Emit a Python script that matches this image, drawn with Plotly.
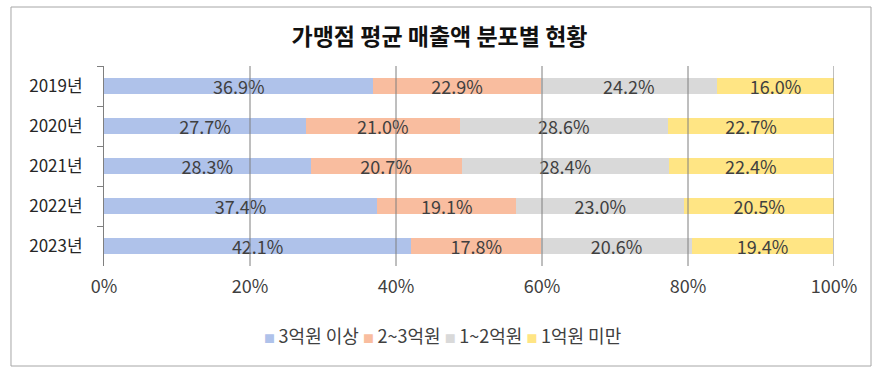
import plotly.graph_objects as go

years = ["2019년", "2020년", "2021년", "2022년", "2023년"]
series_names = ["3억원 이상", "2~3억원", "1~2억원", "1억원 미만"]
v_3plus = [36.9, 27.7, 28.3, 37.4, 42.1]
v_2to3 = [22.9, 21.0, 20.7, 19.1, 17.8]
v_1to2 = [24.2, 28.6, 28.4, 23.0, 20.6]
v_under1 = [16.0, 22.7, 22.4, 20.5, 19.4]
x_ticks = [0, 20, 40, 60, 80, 100]
x_tick_labels = ["0%", "20%", "40%", "60%", "80%", "100%"]

colors = ["#AFC2EA", "#F9BD9F", "#D9D9D9", "#FFE584"]
FONT = "Noto Sans CJK KR"

fig = go.Figure()
for name, vals, col in zip(series_names, [v_3plus, v_2to3, v_1to2, v_under1], colors):
    fig.add_trace(go.Bar(
        y=years, x=vals, name=name, orientation="h",
        marker=dict(color=col, line=dict(width=0)),
        text=[f"{v:.1f}%" for v in vals],
        textposition="inside", insidetextanchor="middle",
        textfont=dict(family=FONT, size=18, color="#404040"),
        constraintext="none", showlegend=False,
    ))

shapes = []
for t in x_ticks[1:]:
    shapes.append(dict(type="line", xref="x", yref="paper", x0=t, x1=t, y0=0, y1=1,
                       line=dict(color="#7F7F7F", width=1), layer="above"))
# outer chart frame
shapes.append(dict(type="rect", xref="paper", yref="paper",
                   x0=-0.1274, x1=1.0507, y0=-0.5, y1=1.295,
                   line=dict(color="#A6A6A6", width=1), layer="below"))

# compact legend (Excel style: small square right next to the text)
legend_text = "".join(
    f"<span style='color:{c};font-size:11px'>■</span>&#8201;{n}" + ("" if i == len(series_names) - 1 else " ")
    for i, (n, c) in enumerate(zip(series_names, colors))
)

fig.update_layout(
    width=879, height=373,
    margin=dict(l=104, r=45, t=66, b=107),
    paper_bgcolor="white", plot_bgcolor="white",
    barmode="stack", bargap=0.62, showlegend=False,
    title=dict(text="가맹점 평균 매출액 분포별 현황", x=0.5, xanchor="center",
               y=1 - 37 / 373, yanchor="middle",
               font=dict(family=FONT, size=23, color="#111111", weight="bold")),
    font=dict(family=FONT, color="#404040"),
    uniformtext=dict(minsize=18, mode="show"),
    xaxis=dict(range=[0, 100], tickvals=x_ticks, ticktext=x_tick_labels,
               showgrid=False, zeroline=False, showline=False, automargin=False,
               tickfont=dict(family=FONT, size=18, color="#404040"), ticklabelstandoff=8),
    yaxis=dict(autorange="reversed", showline=True, linecolor="#7F7F7F", linewidth=1,
               ticks="outside", ticklen=6, tickcolor="#7F7F7F", tickson="boundaries",
               automargin=False, ticklabelstandoff=17,
               tickfont=dict(family=FONT, size=17, color="#262626"), showgrid=False),
    annotations=[dict(text=legend_text, xref="paper", yref="paper",
                      x=(442 - 104) / 730, y=-0.345, xanchor="center", yanchor="middle",
                      showarrow=False, font=dict(family=FONT, size=18, color="#404040"))],
    shapes=shapes,
)

fig.write_html("out.html", config={"displayModeBar": False},
               post_script="document.body.style.margin='0px';")
